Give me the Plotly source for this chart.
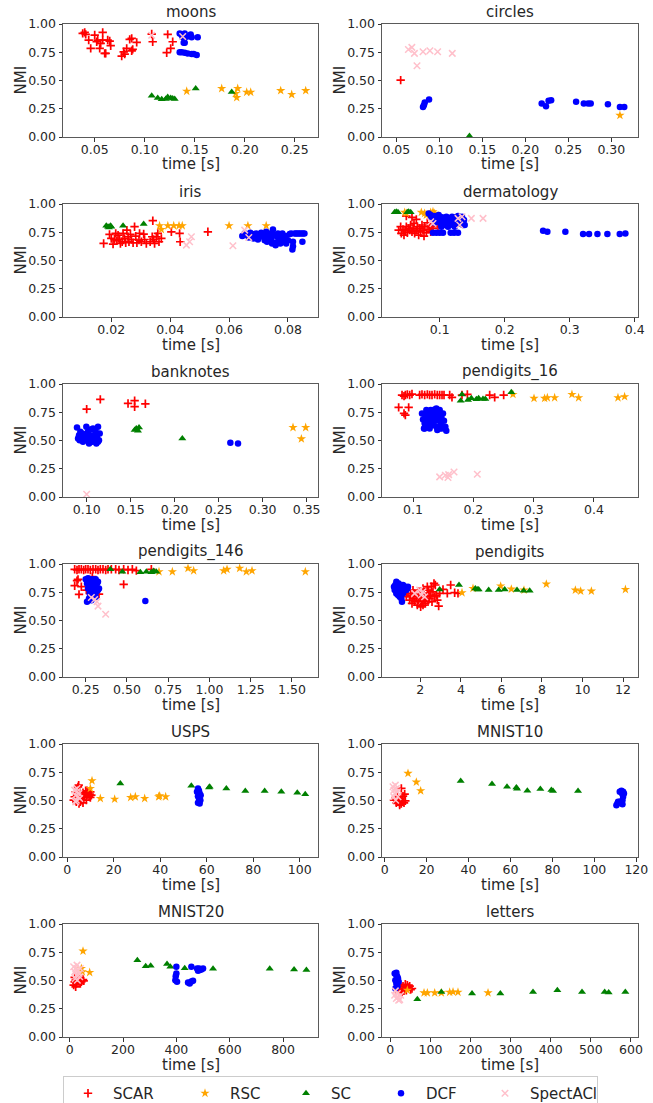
import plotly.graph_objects as go

W, H = 653, 1103

# ---- data: (time [s], NMI) pairs per dataset and method ----
moons_scar = [(0.038, 0.917), (0.041, 0.908), (0.044, 0.858), (0.046, 0.784), (0.050, 0.902), (0.052, 0.843),
              (0.053, 0.858), (0.055, 0.784), (0.056, 0.828), (0.058, 0.926), (0.058, 0.858), (0.060, 0.740),
              (0.061, 0.740), (0.063, 0.858), (0.065, 0.849), (0.066, 0.808), (0.077, 0.716), (0.079, 0.754),
              (0.080, 0.734), (0.082, 0.784), (0.085, 0.864), (0.087, 0.873), (0.087, 0.763), (0.088, 0.775),
              (0.092, 0.837), (0.107, 0.911), (0.108, 0.843), (0.123, 0.908), (0.122, 0.746), (0.126, 0.784),
              (0.128, 0.843), (0.040, 0.926)]
moons_rsc = [(0.142, 0.405), (0.177, 0.429), (0.191, 0.385), (0.192, 0.349), (0.193, 0.429), (0.202, 0.396),
             (0.206, 0.396), (0.236, 0.411), (0.247, 0.376), (0.261, 0.411)]
moons_sc = [(0.107, 0.364), (0.113, 0.346), (0.117, 0.334), (0.121, 0.337), (0.123, 0.355), (0.126, 0.346),
            (0.128, 0.340), (0.130, 0.337), (0.151, 0.429), (0.187, 0.399)]
moons_dcf = [(0.135, 0.917), (0.137, 0.902), (0.138, 0.882), (0.139, 0.834), (0.140, 0.917), (0.142, 0.888),
             (0.146, 0.908), (0.147, 0.882), (0.153, 0.882), (0.135, 0.749), (0.137, 0.749), (0.140, 0.746),
             (0.143, 0.740), (0.147, 0.734), (0.149, 0.734), (0.152, 0.725), (0.140, 0.834)]
moons_spectacl = [(0.107, 0.900), (0.138, 0.890)]

circles_scar = [(0.055, 0.503)]
circles_rsc = [(0.310, 0.192)]
circles_sc = [(0.135, 0.009)]
circles_dcf = [(0.081, 0.266), (0.082, 0.281), (0.083, 0.305), (0.088, 0.331), (0.219, 0.296), (0.224, 0.272),
               (0.227, 0.320), (0.230, 0.325), (0.259, 0.311), (0.268, 0.296), (0.273, 0.296), (0.276, 0.296),
               (0.296, 0.290), (0.310, 0.266), (0.315, 0.266)]
circles_spectacl = [(0.064, 0.775), (0.068, 0.793), (0.071, 0.740), (0.074, 0.630), (0.081, 0.754),
                    (0.089, 0.763), (0.098, 0.754), (0.115, 0.740)]

iris_scar = [(0.0174, 0.651), (0.0194, 0.731), (0.0200, 0.695), (0.0206, 0.645), (0.0211, 0.686), (0.0215, 0.740),
             (0.0219, 0.675), (0.0223, 0.725), (0.0228, 0.686), (0.0231, 0.651), (0.0237, 0.666), (0.0240, 0.740),
             (0.0245, 0.695), (0.0249, 0.657), (0.0253, 0.769), (0.0257, 0.710), (0.0260, 0.666), (0.0265, 0.731),
             (0.0268, 0.686), (0.0274, 0.657), (0.0279, 0.799), (0.0283, 0.716), (0.0287, 0.657), (0.0294, 0.680),
             (0.0296, 0.740), (0.0302, 0.666), (0.0310, 0.734), (0.0313, 0.686), (0.0319, 0.651), (0.0332, 0.666),
             (0.0339, 0.710), (0.0341, 0.852), (0.0344, 0.686), (0.0347, 0.651), (0.0353, 0.710), (0.0358, 0.740),
             (0.0362, 0.666), (0.0370, 0.695), (0.0404, 0.754), (0.0432, 0.740), (0.0434, 0.666), (0.0528, 0.754)]
iris_rsc = [(0.0364, 0.808), (0.0370, 0.775), (0.0392, 0.808), (0.0412, 0.808), (0.0430, 0.808), (0.0441, 0.808),
            (0.0600, 0.808), (0.0664, 0.808), (0.0726, 0.808)]
iris_sc = [(0.0183, 0.808), (0.0189, 0.799), (0.0192, 0.793), (0.0197, 0.808), (0.0200, 0.799), (0.0240, 0.808),
           (0.0310, 0.822)]
iris_dcf = [(0.0645, 0.716), (0.0653, 0.740), (0.0661, 0.725), (0.0667, 0.704), (0.0672, 0.746), (0.0679, 0.734),
            (0.0683, 0.695), (0.0687, 0.716), (0.0692, 0.740), (0.0698, 0.686), (0.0704, 0.725), (0.0709, 0.746),
            (0.0715, 0.710), (0.0721, 0.680), (0.0724, 0.734), (0.0726, 0.754), (0.0729, 0.666), (0.0735, 0.716),
            (0.0740, 0.740), (0.0743, 0.695), (0.0749, 0.775), (0.0751, 0.725), (0.0755, 0.657), (0.0758, 0.636),
            (0.0763, 0.710), (0.0766, 0.740), (0.0769, 0.680), (0.0772, 0.725), (0.0777, 0.704), (0.0781, 0.740),
            (0.0785, 0.695), (0.0792, 0.716), (0.0794, 0.651), (0.0800, 0.680), (0.0806, 0.734), (0.0811, 0.740),
            (0.0815, 0.598), (0.0817, 0.627), (0.0823, 0.740), (0.0828, 0.740), (0.0834, 0.740), (0.0839, 0.740),
            (0.0845, 0.740), (0.0851, 0.740), (0.0856, 0.740), (0.0817, 0.666), (0.0849, 0.666), (0.0788, 0.666),
            (0.0746, 0.651), (0.0774, 0.651)]
iris_spectacl = [(0.0455, 0.636), (0.0466, 0.666), (0.0472, 0.710), (0.0613, 0.630), (0.0653, 0.769),
                 (0.0667, 0.704)]

derm_scar = [(0.0369, 0.769), (0.0400, 0.799), (0.0410, 0.740), (0.0436, 0.775), (0.0451, 0.725), (0.0472, 0.763),
             (0.0487, 0.799), (0.0503, 0.746), (0.0523, 0.784), (0.0538, 0.769), (0.0554, 0.814), (0.0574, 0.754),
             (0.0590, 0.784), (0.0605, 0.828), (0.0615, 0.740), (0.0641, 0.769), (0.0656, 0.799), (0.0677, 0.725),
             (0.0692, 0.784), (0.0708, 0.754), (0.0728, 0.814), (0.0744, 0.769), (0.0759, 0.716), (0.0769, 0.799),
             (0.0795, 0.746), (0.0810, 0.834), (0.0821, 0.775), (0.0846, 0.799), (0.0862, 0.754), (0.0872, 0.828),
             (0.0897, 0.784), (0.0487, 0.893), (0.0574, 0.882), (0.0641, 0.864), (0.0974, 0.799), (0.1026, 0.858)]
derm_rsc = [(0.0462, 0.926), (0.0487, 0.917), (0.0718, 0.926), (0.0769, 0.917), (0.0862, 0.926), (0.0897, 0.932),
            (0.0923, 0.917), (0.0795, 0.902)]
derm_sc = [(0.0308, 0.926), (0.0333, 0.932), (0.0359, 0.926), (0.0503, 0.926), (0.0523, 0.932), (0.0554, 0.926)]
derm_dcf = [(0.0831, 0.917), (0.0862, 0.902), (0.0872, 0.882), (0.0897, 0.864), (0.0923, 0.893), (0.0949, 0.843),
            (0.0964, 0.873), (0.0985, 0.902), (0.1000, 0.858), (0.1015, 0.828), (0.1036, 0.882), (0.1051, 0.843),
            (0.1077, 0.864), (0.1087, 0.814), (0.1103, 0.888), (0.1118, 0.852), (0.1138, 0.828), (0.1154, 0.873),
            (0.1179, 0.843), (0.1190, 0.888), (0.1205, 0.814), (0.1221, 0.864), (0.1241, 0.834), (0.1256, 0.882),
            (0.1272, 0.858), (0.1292, 0.828), (0.1308, 0.873), (0.1323, 0.843), (0.1344, 0.888), (0.1359, 0.814),
            (0.1374, 0.858), (0.1026, 0.799), (0.1128, 0.799), (0.1231, 0.799), (0.0923, 0.834), (0.1282, 0.893),
            (0.1385, 0.814), (0.0897, 0.746), (0.0949, 0.746), (0.1000, 0.746), (0.1051, 0.746), (0.1169, 0.746),
            (0.1221, 0.746), (0.1282, 0.746), (0.2590, 0.763), (0.2656, 0.754), (0.2933, 0.754), (0.3205, 0.734),
            (0.3297, 0.734), (0.3426, 0.734), (0.3579, 0.734), (0.3769, 0.734), (0.3856, 0.740)]
derm_spectacl = [(0.0862, 0.843), (0.0897, 0.828), (0.1282, 0.873), (0.1308, 0.814), (0.1344, 0.888),
                 (0.1487, 0.873), (0.1667, 0.873)]

bank_scar = [(0.1000, 0.778), (0.1155, 0.864), (0.1470, 0.828), (0.1545, 0.852), (0.1545, 0.799), (0.1667, 0.825)]
bank_rsc = [(0.3345, 0.615), (0.3489, 0.615), (0.3440, 0.515)]
bank_sc = [(0.1545, 0.592), (0.1564, 0.607), (0.1583, 0.586), (0.1595, 0.615), (0.2087, 0.518)]
bank_dcf = [(0.0890, 0.615), (0.0902, 0.518), (0.0913, 0.547), (0.0920, 0.503), (0.0928, 0.577), (0.0939, 0.533),
            (0.0951, 0.562), (0.0966, 0.509), (0.0977, 0.547), (0.0989, 0.527), (0.0996, 0.621), (0.1004, 0.503),
            (0.1015, 0.577), (0.1027, 0.473), (0.1034, 0.547), (0.1042, 0.598), (0.1053, 0.518), (0.1064, 0.488),
            (0.1072, 0.607), (0.1080, 0.547), (0.1091, 0.503), (0.1102, 0.577), (0.1110, 0.473), (0.1117, 0.533),
            (0.1129, 0.621), (0.1140, 0.503), (0.1148, 0.562), (0.0958, 0.488), (0.1083, 0.527), (0.1129, 0.488),
            (0.2633, 0.479), (0.2720, 0.473)]
bank_spectacl = [(0.1000, 0.024)]

p16_scar = [(0.0818, 0.902), (0.0851, 0.893), (0.0873, 0.902), (0.0906, 0.908), (0.0945, 0.902), (0.0983, 0.911),
            (0.1110, 0.902), (0.1149, 0.908), (0.1193, 0.902), (0.1238, 0.908), (0.1276, 0.902), (0.1315, 0.902),
            (0.1359, 0.908), (0.1403, 0.902), (0.1442, 0.902), (0.1481, 0.902), (0.1514, 0.902), (0.1608, 0.902),
            (0.1646, 0.882), (0.1812, 0.902), (0.1901, 0.908), (0.2271, 0.902), (0.2354, 0.882), (0.2503, 0.902),
            (0.0762, 0.793), (0.0851, 0.740), (0.0873, 0.725), (0.0928, 0.793)]
p16_rsc = [(0.2657, 0.908), (0.3006, 0.873), (0.3182, 0.873), (0.3227, 0.879), (0.3348, 0.879), (0.3635, 0.908),
           (0.3746, 0.879), (0.4398, 0.879), (0.4508, 0.888)]
p16_sc = [(0.1790, 0.852), (0.1812, 0.908), (0.1912, 0.858), (0.1967, 0.873), (0.2050, 0.864), (0.2088, 0.873),
          (0.2160, 0.867), (0.2199, 0.867), (0.2630, 0.926)]
p16_dcf = [(0.1149, 0.740), (0.1166, 0.686), (0.1182, 0.607), (0.1193, 0.651), (0.1204, 0.716), (0.1221, 0.769),
           (0.1238, 0.627), (0.1249, 0.675), (0.1260, 0.725), (0.1276, 0.607), (0.1293, 0.769), (0.1304, 0.695),
           (0.1315, 0.636), (0.1331, 0.740), (0.1348, 0.666), (0.1359, 0.775), (0.1370, 0.710), (0.1387, 0.621),
           (0.1403, 0.754), (0.1414, 0.680), (0.1425, 0.734), (0.1442, 0.769), (0.1459, 0.651), (0.1470, 0.704),
           (0.1481, 0.607), (0.1497, 0.740), (0.1514, 0.675), (0.1536, 0.621), (0.1552, 0.586), (0.1193, 0.607),
           (0.1293, 0.651), (0.1403, 0.592), (0.1442, 0.607), (0.1387, 0.784)]
p16_spectacl = [(0.1442, 0.178), (0.1536, 0.192), (0.1580, 0.172), (0.1591, 0.198), (0.1680, 0.222),
                (0.2066, 0.201)]

p146_scar = [(0.1833, 0.953), (0.1975, 0.947), (0.2096, 0.953), (0.2237, 0.953), (0.2379, 0.947), (0.2500, 0.953),
             (0.2641, 0.953), (0.2783, 0.947), (0.2944, 0.953), (0.3106, 0.953), (0.3247, 0.947), (0.3389, 0.953),
             (0.3550, 0.953), (0.3712, 0.947), (0.3854, 0.953), (0.4056, 0.953), (0.4318, 0.953), (0.4520, 0.947),
             (0.4803, 0.953), (0.5066, 0.947), (0.5328, 0.953), (0.5571, 0.941), (0.6480, 0.953), (0.1833, 0.808),
             (0.1975, 0.852), (0.2035, 0.864), (0.2096, 0.731), (0.2237, 0.799), (0.2904, 0.888), (0.3308, 0.734),
             (0.4803, 0.820), (0.2540, 0.769), (0.2742, 0.814)]
p146_rsc = [(0.6944, 0.932), (0.7753, 0.932), (0.8702, 0.962), (0.9045, 0.941), (1.0864, 0.941), (1.1066, 0.953),
            (1.1833, 0.962), (1.2237, 0.932), (1.2581, 0.941), (1.5813, 0.932)]
p146_sc = [(0.3995, 0.953), (0.4722, 0.932), (0.5813, 0.926), (0.6177, 0.932), (0.6480, 0.926), (0.6621, 0.938),
           (0.6783, 0.932)]
p146_dcf = [(0.2500, 0.864), (0.2581, 0.828), (0.2641, 0.784), (0.2702, 0.858), (0.2742, 0.740), (0.2783, 0.814),
            (0.2843, 0.769), (0.2904, 0.864), (0.2944, 0.710), (0.2985, 0.843), (0.3045, 0.799), (0.3106, 0.864),
            (0.3146, 0.754), (0.3187, 0.828), (0.3247, 0.769), (0.3308, 0.784), (0.2581, 0.666), (0.2702, 0.695),
            (0.2843, 0.680), (0.3045, 0.725), (0.3247, 0.843), (0.3106, 0.710), (0.2641, 0.873), (0.2944, 0.799),
            (0.6116, 0.672)]
p146_spectacl = [(0.2843, 0.704), (0.3045, 0.686), (0.3187, 0.666), (0.3247, 0.627), (0.3712, 0.556)]

pd_scar = [(1.309, 0.710), (1.391, 0.740), (1.474, 0.680), (1.523, 0.725), (1.589, 0.651), (1.638, 0.695),
           (1.688, 0.740), (1.720, 0.666), (1.803, 0.710), (1.852, 0.636), (1.885, 0.754), (1.918, 0.680),
           (1.967, 0.725), (2.016, 0.621), (2.049, 0.695), (2.082, 0.666), (2.132, 0.784), (2.181, 0.725),
           (2.214, 0.680), (2.247, 0.651), (2.296, 0.710), (2.345, 0.740), (2.378, 0.666), (2.411, 0.769),
           (2.461, 0.695), (2.510, 0.725), (2.543, 0.799), (2.576, 0.666), (2.625, 0.754), (2.674, 0.828),
           (2.707, 0.710), (2.740, 0.814), (2.789, 0.725), (2.839, 0.680), (2.905, 0.627), (2.954, 0.740),
           (3.118, 0.775), (3.332, 0.740), (3.497, 0.814), (3.694, 0.746), (3.859, 0.740), (2.345, 0.799),
           (2.132, 0.636), (1.638, 0.769)]
pd_rsc = [(4.056, 0.746), (4.599, 0.784), (5.964, 0.805), (6.490, 0.778), (7.115, 0.769), (8.217, 0.822),
          (9.650, 0.769), (9.911, 0.760), (10.440, 0.760), (12.120, 0.775)]
pd_sc = [(2.954, 0.775), (3.908, 0.814), (4.714, 0.784), (4.813, 0.775), (4.878, 0.775), (5.372, 0.769),
         (5.865, 0.769), (6.161, 0.775), (6.770, 0.769), (7.099, 0.763), (7.395, 0.763)]
pd_dcf = [(0.700, 0.799), (0.734, 0.769), (0.766, 0.814), (0.816, 0.843), (0.865, 0.784), (0.898, 0.754),
          (0.931, 0.828), (0.980, 0.799), (1.030, 0.769), (1.063, 0.740), (1.095, 0.784), (1.145, 0.814),
          (1.194, 0.769), (1.227, 0.784), (1.260, 0.799), (1.309, 0.769), (1.359, 0.784), (0.980, 0.710),
          (1.063, 0.695), (1.095, 0.666), (1.145, 0.740), (0.898, 0.725), (0.816, 0.740), (1.391, 0.799)]
pd_spectacl = [(1.720, 0.740), (1.967, 0.769), (2.132, 0.754), (2.214, 0.710), (2.049, 0.725)]

usps_scar = [(2.73, 0.503), (3.16, 0.533), (3.59, 0.577), (3.87, 0.488), (4.16, 0.547), (4.59, 0.621), (4.88, 0.636),
             (5.02, 0.518), (5.31, 0.577), (5.60, 0.488), (6.03, 0.547), (6.46, 0.503), (6.74, 0.568), (7.03, 0.527),
             (7.46, 0.547), (7.89, 0.586), (8.18, 0.503), (8.46, 0.547), (8.90, 0.568), (9.33, 0.533), (9.61, 0.556),
             (9.90, 0.577), (10.33, 0.547), (5.02, 0.473), (6.74, 0.479), (8.46, 0.586), (9.90, 0.527)]
usps_rsc = [(9.90, 0.607), (10.62, 0.675), (14.20, 0.518), (20.37, 0.512), (27.26, 0.527), (29.27, 0.533),
            (33.29, 0.518), (39.31, 0.533), (39.74, 0.541), (42.32, 0.533)]
usps_sc = [(22.81, 0.651), (53.37, 0.630), (61.26, 0.621), (61.00, 0.615), (68.44, 0.607), (76.61, 0.583),
           (84.94, 0.583), (92.11, 0.577), (98.99, 0.568), (102.40, 0.556)]
usps_dcf = [(56.24, 0.607), (56.67, 0.586), (56.96, 0.562), (56.24, 0.538), (56.67, 0.518), (57.25, 0.503),
            (56.24, 0.479), (56.96, 0.473), (55.81, 0.577), (57.39, 0.547)]
usps_spectacl = [(3.16, 0.592), (3.59, 0.547), (3.87, 0.503), (4.16, 0.577), (4.59, 0.533), (5.02, 0.562),
                 (3.59, 0.488), (5.31, 0.518), (4.16, 0.607)]

m10_scar = [(4.45, 0.503), (5.09, 0.518), (5.56, 0.479), (6.04, 0.533), (6.36, 0.488), (6.68, 0.509), (7.15, 0.473),
            (7.63, 0.518), (7.95, 0.607), (8.27, 0.497), (8.74, 0.538), (9.22, 0.479), (9.54, 0.556), (9.86, 0.497),
            (5.56, 0.527), (7.15, 0.459), (7.95, 0.473)]
m10_rsc = [(11.13, 0.740), (15.10, 0.663), (17.17, 0.586)]
m10_sc = [(36.25, 0.672), (51.19, 0.645), (58.35, 0.621), (62.80, 0.615), (63.12, 0.604), (68.04, 0.586),
          (74.24, 0.601), (79.49, 0.592), (80.29, 0.583), (92.21, 0.583)]
m10_dcf = [(110.5, 0.459), (111.0, 0.473), (111.3, 0.488), (112.1, 0.488), (112.9, 0.479), (113.4, 0.503),
           (113.7, 0.533), (113.2, 0.562), (112.9, 0.586), (113.7, 0.577), (114.1, 0.562), (112.1, 0.577),
           (113.4, 0.467)]
m10_spectacl = [(3.97, 0.621), (4.45, 0.592), (4.77, 0.562), (5.09, 0.636), (5.56, 0.607), (6.04, 0.577),
                (6.36, 0.533), (4.29, 0.533), (5.25, 0.503)]

m20_scar = [(15.0, 0.459), (18.75, 0.488), (22.5, 0.503), (25.0, 0.473), (27.5, 0.518), (31.25, 0.497),
            (35.0, 0.479), (37.5, 0.509), (43.75, 0.488), (47.5, 0.503), (50.0, 0.509), (52.5, 0.497),
            (22.5, 0.444), (31.25, 0.533), (40.0, 0.473), (18.75, 0.527)]
m20_rsc = [(50.0, 0.760), (43.75, 0.607), (47.5, 0.577), (75.0, 0.571)]
m20_sc = [(253.75, 0.680), (285.0, 0.627), (303.75, 0.630), (365.0, 0.645), (377.5, 0.621), (431.25, 0.609),
          (537.5, 0.604), (750.0, 0.604), (841.25, 0.598), (887.5, 0.592)]
m20_dcf = [(400.0, 0.621), (400.0, 0.562), (397.5, 0.538), (402.5, 0.488), (396.25, 0.503), (456.25, 0.621),
           (443.75, 0.482), (450.0, 0.473), (456.25, 0.491), (462.5, 0.497), (477.5, 0.607), (485.0, 0.607),
           (487.5, 0.592), (493.75, 0.598), (500.0, 0.607), (481.25, 0.586)]
m20_spectacl = [(15.0, 0.621), (18.75, 0.577), (22.5, 0.607), (25.0, 0.547), (27.5, 0.636), (31.25, 0.592),
                (35.0, 0.562), (37.5, 0.533), (21.25, 0.518), (40.0, 0.607), (28.75, 0.503)]

let_scar = [(15.0, 0.429), (19.1, 0.459), (23.3, 0.414), (25.8, 0.444), (29.1, 0.399), (31.6, 0.450), (35.7, 0.429),
            (37.4, 0.467), (39.9, 0.414), (44.1, 0.438), (48.2, 0.450), (50.7, 0.420), (54.0, 0.429), (21.6, 0.391),
            (34.0, 0.408), (42.4, 0.459)]
let_rsc = [(42.4, 0.414), (84.0, 0.391), (92.3, 0.391), (110.6, 0.391), (127.2, 0.391), (148.0, 0.396),
           (156.3, 0.399), (168.7, 0.396), (243.6, 0.391)]
let_sc = [(67.3, 0.334), (127.2, 0.399), (203.7, 0.385), (274.3, 0.385), (355.8, 0.399), (416.5, 0.414),
          (478.0, 0.399), (534.5, 0.399), (544.5, 0.393), (586.0, 0.399)]
let_dcf = [(10.8, 0.562), (15.0, 0.547), (17.5, 0.533), (12.5, 0.503), (15.0, 0.473), (17.5, 0.450), (12.5, 0.429),
           (19.1, 0.518), (15.0, 0.568), (20.8, 0.488)]
let_spectacl = [(10.8, 0.370), (15.0, 0.340), (19.1, 0.355), (23.3, 0.331), (17.5, 0.385), (25.8, 0.370),
                (12.5, 0.408), (20.8, 0.325)]

# ---- dataset titles, x ranges and tick labels ----
titles = ["moons", "circles", "iris", "dermatology", "banknotes", "pendigits_16",
          "pendigits_146", "pendigits", "USPS", "MNIST10", "MNIST20", "letters"]
x_ranges = [(0.0183, 0.2733), (0.0333, 0.331), (0.0036, 0.0902), (0.0113, 0.405), (0.0731, 0.3629),
            (0.0486, 0.473), (0.1126, 1.658), (0.109, 12.74), (-1.87, 107.9), (-1.27, 120.8),
            (-25.0, 931.0), (-20.8, 617.6)]
x_ticks = [[0.05, 0.10, 0.15, 0.20, 0.25], [0.05, 0.10, 0.15, 0.20, 0.25, 0.30], [0.02, 0.04, 0.06, 0.08],
           [0.1, 0.2, 0.3, 0.4], [0.10, 0.15, 0.20, 0.25, 0.30, 0.35], [0.1, 0.2, 0.3, 0.4],
           [0.25, 0.50, 0.75, 1.00, 1.25, 1.50], [2, 4, 6, 8, 10, 12], [0, 20, 40, 60, 80, 100],
           [0, 20, 40, 60, 80, 100, 120], [0, 200, 400, 600, 800], [0, 100, 200, 300, 400, 500, 600]]
x_tick_formats = [".2f", ".2f", ".2f", ".1f", ".2f", ".1f", ".2f", "d", "d", "d", "d", "d"]
y_ticks = [0.0, 0.25, 0.5, 0.75, 1.0]

methods = ["SCAR", "RSC", "SC", "DCF", "SpectACl"]
panel_series = [
    [moons_scar, moons_rsc, moons_sc, moons_dcf, moons_spectacl],
    [circles_scar, circles_rsc, circles_sc, circles_dcf, circles_spectacl],
    [iris_scar, iris_rsc, iris_sc, iris_dcf, iris_spectacl],
    [derm_scar, derm_rsc, derm_sc, derm_dcf, derm_spectacl],
    [bank_scar, bank_rsc, bank_sc, bank_dcf, bank_spectacl],
    [p16_scar, p16_rsc, p16_sc, p16_dcf, p16_spectacl],
    [p146_scar, p146_rsc, p146_sc, p146_dcf, p146_spectacl],
    [pd_scar, pd_rsc, pd_sc, pd_dcf, pd_spectacl],
    [usps_scar, usps_rsc, usps_sc, usps_dcf, usps_spectacl],
    [m10_scar, m10_rsc, m10_sc, m10_dcf, m10_spectacl],
    [m20_scar, m20_rsc, m20_sc, m20_dcf, m20_spectacl],
    [let_scar, let_rsc, let_sc, let_dcf, let_spectacl],
]

# ---- marker styles per method ----
marker_styles = {
    "SCAR": dict(symbol="cross-thin", color="red", size=6, line=dict(color="red", width=1.7)),
    "RSC": dict(symbol="star", color="orange", size=7, line=dict(width=0)),
    "SC": dict(symbol="triangle-up", color="green", size=7, line=dict(width=0)),
    "DCF": dict(symbol="circle", color="blue", size=6.5, line=dict(width=0)),
    "SpectACl": dict(symbol="x-thin", color="pink", size=6.5, line=dict(color="pink", width=1.5)),
}
legend_widths = {"SCAR": 62, "RSC": 46, "SC": 40, "DCF": 49, "SpectACl": 62}

FONT = "DejaVu Sans"
TEXT_COLOR = "#262626"

fig = go.Figure()
annotations = []
layout_axes = {}

for i, title in enumerate(titles):
    row, col = divmod(i, 2)
    n = i + 1
    suffix = "" if n == 1 else str(n)
    left_px, right_px = (63, 318) if col == 0 else (382, 638)
    top_px, bottom_px = 24 + 180 * row, 137 + 180 * row

    for m, pts in zip(methods, panel_series[i]):
        fig.add_trace(go.Scatter(
            x=[p[0] for p in pts], y=[p[1] for p in pts],
            mode="markers", name=m, legendgroup=m, showlegend=(i == 0),
            legendwidth=legend_widths[m],
            marker=marker_styles[m],
            xaxis="x" + suffix, yaxis="y" + suffix,
        ))

    axis_common = dict(
        showline=True, mirror=True, linecolor="#5a5a5a", linewidth=1,
        ticks="outside", ticklen=3.5, tickwidth=1, tickcolor="#333",
        showgrid=False, zeroline=False,
        tickfont=dict(family=FONT, size=12.5, color=TEXT_COLOR),
    )
    layout_axes["xaxis" + suffix] = dict(
        axis_common, domain=[left_px / W, right_px / W], anchor="y" + suffix,
        range=list(x_ranges[i]), tickvals=x_ticks[i], tickformat=x_tick_formats[i],
        ticklabelstandoff=-3,
    )
    layout_axes["yaxis" + suffix] = dict(
        axis_common, domain=[1 - bottom_px / H, 1 - top_px / H], anchor="x" + suffix,
        range=[0, 1], tickvals=y_ticks, tickformat=".2f",
    )

    xc = (left_px + right_px) / 2 / W
    annotations.append(dict(text=title, x=xc, y=1 - top_px / H, xref="paper", yref="paper",
                            xanchor="center", yanchor="bottom", yshift=1, showarrow=False,
                            font=dict(family=FONT, size=15, color=TEXT_COLOR)))
    annotations.append(dict(text="time [s]", x=xc, y=1 - (bottom_px + 27.5) / H, xref="paper", yref="paper",
                            xanchor="center", yanchor="middle", showarrow=False,
                            font=dict(family=FONT, size=15, color=TEXT_COLOR)))
    annotations.append(dict(text="NMI", x=(left_px - 43) / W, y=1 - (top_px + bottom_px) / 2 / H,
                            xref="paper", yref="paper", xanchor="center", yanchor="middle",
                            textangle=-90, showarrow=False,
                            font=dict(family=FONT, size=15, color=TEXT_COLOR)))

fig.update_layout(
    width=W, height=H,
    margin=dict(l=0, r=0, t=0, b=0, autoexpand=False),
    paper_bgcolor="white", plot_bgcolor="white",
    font=dict(family=FONT, color=TEXT_COLOR),
    annotations=annotations,
    legend=dict(
        orientation="h", x=63 / W, y=1 - 1076 / H, xanchor="left", yanchor="top",
        bordercolor="#cccccc", borderwidth=1, bgcolor="white",
        font=dict(family=FONT, size=15, color=TEXT_COLOR), itemwidth=40,
    ),
    **layout_axes,
)

fig.write_html("out.html")
